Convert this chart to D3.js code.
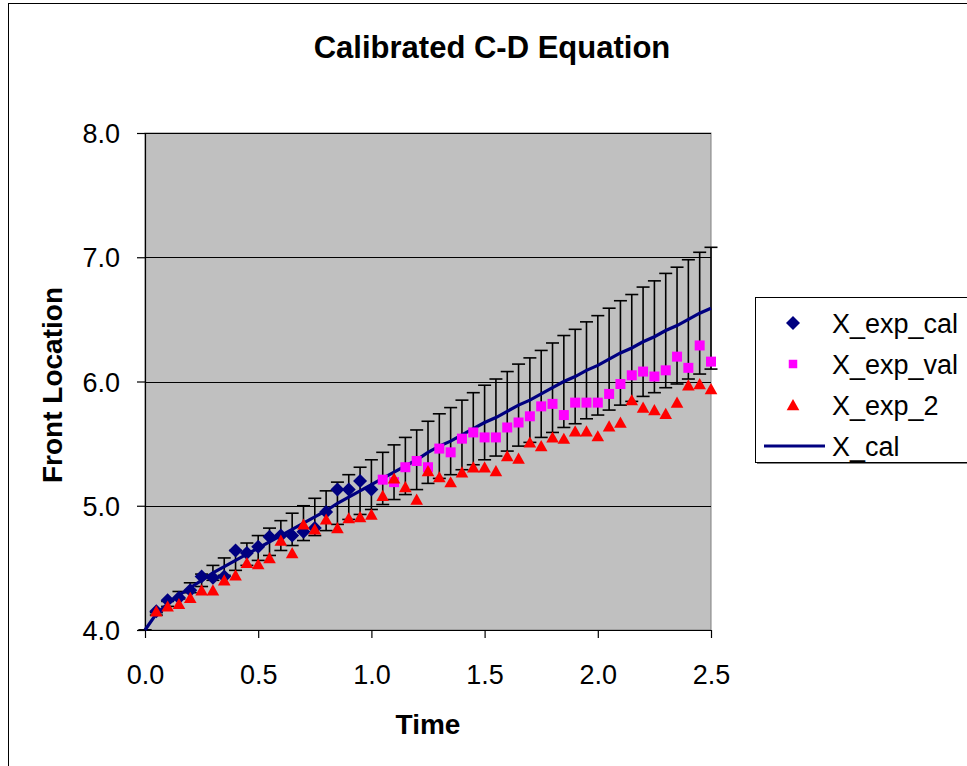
<!DOCTYPE html>
<html>
<head>
<meta charset="utf-8">
<script src="https://cdn.jsdelivr.net/npm/d3@7"></script>
<style>
  html, body { margin: 0; padding: 0; background: #ffffff; }
  svg { display: block; font-family: "Liberation Sans", Arial, sans-serif; }
</style>
</head>
<body>
<script>
// Time steps (shared by every series)
const times = [0.00, 0.05, 0.10, 0.15, 0.20, 0.25, 0.30, 0.35, 0.40, 0.45, 0.50,
  0.55, 0.60, 0.65, 0.70, 0.75, 0.80, 0.85, 0.90, 0.95, 1.00,
  1.05, 1.10, 1.15, 1.20, 1.25, 1.30, 1.35, 1.40, 1.45, 1.50,
  1.55, 1.60, 1.65, 1.70, 1.75, 1.80, 1.85, 1.90, 1.95, 2.00,
  2.05, 2.10, 2.15, 2.20, 2.25, 2.30, 2.35, 2.40, 2.45, 2.50];

// Measured front location used for calibration (t = 0.05 .. 1.00)
const xExpCal = [4.15, 4.24, 4.26, 4.32, 4.43, 4.42, 4.43, 4.64, 4.62, 4.67,
  4.75, 4.76, 4.76, 4.79, 4.82, 4.95, 5.13, 5.13, 5.20, 5.13];

// Measured front location used for validation (t = 1.05 .. 2.50)
const xExpVal = [5.21, 5.19, 5.31, 5.36, 5.31, 5.46, 5.43, 5.54, 5.59, 5.55,
  5.55, 5.63, 5.67, 5.72, 5.80, 5.82, 5.73, 5.83, 5.83, 5.83,
  5.90, 5.98, 6.05, 6.08, 6.04, 6.09, 6.20, 6.11, 6.29, 6.16];

// Second experiment (t = 0.05 .. 2.50)
const xExp2 = [4.15, 4.19, 4.21, 4.26, 4.32, 4.32, 4.40, 4.44, 4.54, 4.53,
  4.58, 4.72, 4.62, 4.85, 4.81, 4.89, 4.82, 4.90, 4.91, 4.93,
  5.08, 5.22, 5.15, 5.05, 5.28, 5.23, 5.19, 5.27, 5.31, 5.31,
  5.28, 5.40, 5.38, 5.51, 5.48, 5.55, 5.54, 5.60, 5.60, 5.56,
  5.64, 5.67, 5.85, 5.79, 5.77, 5.74, 5.83, 5.97, 5.98, 5.94];

// Calibrated C-D model (t = 0 .. 2.50)
const xCal = [4.00, 4.13, 4.21, 4.28, 4.34, 4.40, 4.46, 4.51, 4.56, 4.61, 4.66,
  4.71, 4.76, 4.81, 4.86, 4.91, 4.96, 5.02, 5.07, 5.12, 5.17,
  5.22, 5.27, 5.32, 5.37, 5.43, 5.48, 5.52, 5.57, 5.62, 5.67,
  5.71, 5.76, 5.81, 5.85, 5.90, 5.95, 6.00, 6.04, 6.09, 6.13,
  6.18, 6.23, 6.27, 6.32, 6.36, 6.41, 6.45, 6.50, 6.55, 6.59];

// Error bar half-widths on the model curve
const xCalErr = [0.00, 0.01, 0.02, 0.03, 0.04, 0.05, 0.06, 0.07, 0.08, 0.09, 0.10,
  0.11, 0.12, 0.13, 0.14, 0.15, 0.16, 0.17, 0.18, 0.19, 0.20,
  0.21, 0.22, 0.23, 0.24, 0.25, 0.26, 0.27, 0.28, 0.29, 0.30,
  0.31, 0.32, 0.33, 0.34, 0.35, 0.36, 0.37, 0.38, 0.39, 0.40,
  0.41, 0.42, 0.43, 0.44, 0.45, 0.46, 0.47, 0.48, 0.49, 0.49];

const xTicks = [0, 0.5, 1.0, 1.5, 2.0, 2.5];
const yTicks = [4, 5, 6, 7, 8];
const seriesNames = ["X_exp_cal", "X_exp_val", "X_exp_2", "X_cal"];

const W = 967, H = 766;
const svg = d3.select("body").append("svg").attr("width", W).attr("height", H);

// Chart area
svg.append("rect").attr("x", 0).attr("y", 0).attr("width", W).attr("height", H).attr("fill", "#ffffff");
svg.append("rect").attr("x", 8.5).attr("y", 3.5).attr("width", 1100).attr("height", 900)
  .attr("fill", "none").attr("stroke", "#000").attr("stroke-width", 1);

const x = d3.scaleLinear().domain([0, 2.5]).range([145, 711]);
const y = d3.scaleLinear().domain([4, 8]).range([630, 133]);

// Plot area
svg.append("rect")
  .attr("x", x(0)).attr("y", y(8)).attr("width", x(2.5) - x(0)).attr("height", y(4) - y(8))
  .attr("fill", "#c0c0c0").attr("stroke", "#808080").attr("stroke-width", 1);

// Horizontal gridlines
svg.append("g").selectAll("line").data(yTicks.filter(d => d > 4)).join("line")
  .attr("x1", x(0)).attr("x2", x(2.5))
  .attr("y1", d => Math.round(y(d)) + 0.5).attr("y2", d => Math.round(y(d)) + 0.5)
  .attr("stroke", "#000").attr("stroke-width", 1);

// Axes
const fmt = d3.format(".1f");
const yAxis = svg.append("g").attr("transform", `translate(${x(0)},0)`)
  .call(d3.axisLeft(y).tickValues(yTicks).tickFormat(fmt).tickSize(8).tickSizeOuter(0).tickPadding(17));
const xAxis = svg.append("g").attr("transform", `translate(0,${y(4)})`)
  .call(d3.axisBottom(x).tickValues(xTicks).tickFormat(fmt).tickSize(8).tickSizeOuter(0).tickPadding(27));
[xAxis, yAxis].forEach(g => {
  g.selectAll("path").attr("stroke", "#000").attr("stroke-width", 1.2);
  g.selectAll("line").attr("stroke", "#000").attr("stroke-width", 1.2);
  g.selectAll("text").attr("font-size", 27).attr("fill", "#000")
    .attr("font-family", "'Liberation Sans', Arial, sans-serif");
});
yAxis.selectAll("text").attr("dy", "0.36em");

// Error bars on the model
const errData = times.map((t, i) => ({ t, v: xCal[i], e: xCalErr[i] }));
const eb = svg.append("g").attr("stroke", "#000").attr("stroke-width", 1.6);
eb.selectAll("line.v").data(errData).join("line").attr("class", "v")
  .attr("x1", d => x(d.t)).attr("x2", d => x(d.t))
  .attr("y1", d => y(d.v - d.e)).attr("y2", d => y(d.v + d.e));
eb.selectAll("line.top").data(errData).join("line").attr("class", "top")
  .attr("x1", d => x(d.t) - 6.5).attr("x2", d => x(d.t) + 6.5)
  .attr("y1", d => y(d.v + d.e)).attr("y2", d => y(d.v + d.e));
eb.selectAll("line.bot").data(errData).join("line").attr("class", "bot")
  .attr("x1", d => x(d.t) - 6.5).attr("x2", d => x(d.t) + 6.5)
  .attr("y1", d => y(d.v - d.e)).attr("y2", d => y(d.v - d.e));

// Model curve
svg.append("path").datum(errData)
  .attr("d", d3.line().x(d => x(d.t)).y(d => y(d.v)))
  .attr("fill", "none").attr("stroke", "#000080").attr("stroke-width", 3.2);

// Marker shapes
const diamond = "M0,-7L7,0L0,7L-7,0Z";
const square = "M-5,-5L5,-5L5,5L-5,5Z";
const triangle = "M0,-6L6.3,5.2L-6.3,5.2Z";

const calPts = xExpCal.map((v, i) => ({ t: times[i + 1], v }));
const valPts = xExpVal.map((v, i) => ({ t: times[i + 21], v }));
const exp2Pts = xExp2.map((v, i) => ({ t: times[i + 1], v }));

function drawMarkers(data, shape, color) {
  svg.append("g").selectAll("path").data(data).join("path")
    .attr("d", shape).attr("fill", color)
    .attr("transform", d => `translate(${x(d.t)},${y(d.v)})`);
}
drawMarkers(calPts, diamond, "#000080");
drawMarkers(valPts, square, "#ff00ff");
drawMarkers(exp2Pts, triangle, "#ff0000");

// Title and axis titles
svg.append("text").attr("x", 492).attr("y", 58).attr("text-anchor", "middle")
  .attr("font-size", 31).attr("font-weight", "bold").text("Calibrated C-D Equation");
svg.append("text").attr("x", (x(0) + x(2.5)) / 2).attr("y", 734).attr("text-anchor", "middle")
  .attr("font-size", 28).attr("font-weight", "bold").text("Time");
svg.append("text").attr("transform", `translate(62,385) rotate(-90)`).attr("text-anchor", "middle")
  .attr("font-size", 28).attr("font-weight", "bold").text("Front Location");

// Legend
const lg = svg.append("g");
lg.append("rect").attr("x", 757).attr("y", 299).attr("width", 300).attr("height", 165).attr("fill", "#808080");
lg.append("rect").attr("x", 755.5).attr("y", 297.5).attr("width", 300).attr("height", 165)
  .attr("fill", "#ffffff").attr("stroke", "#000").attr("stroke-width", 1);
const rowY = [323, 364, 405, 446];
const shapes = [[diamond, "#000080"], [square, "#ff00ff"], [triangle, "#ff0000"]];
shapes.forEach((s, i) => {
  lg.append("path").attr("d", s[0]).attr("fill", s[1])
    .attr("transform", `translate(793,${rowY[i]})${i === 1 ? " scale(0.85)" : ""}`);
});
lg.append("line").attr("x1", 764).attr("x2", 825).attr("y1", rowY[3]).attr("y2", rowY[3])
  .attr("stroke", "#000080").attr("stroke-width", 3.2);
lg.selectAll("text").data(seriesNames).join("text")
  .attr("x", 832).attr("y", (d, i) => rowY[i] + 9.5)
  .attr("font-size", 27).attr("fill", "#000").text(d => d);
</script>
</body>
</html>
